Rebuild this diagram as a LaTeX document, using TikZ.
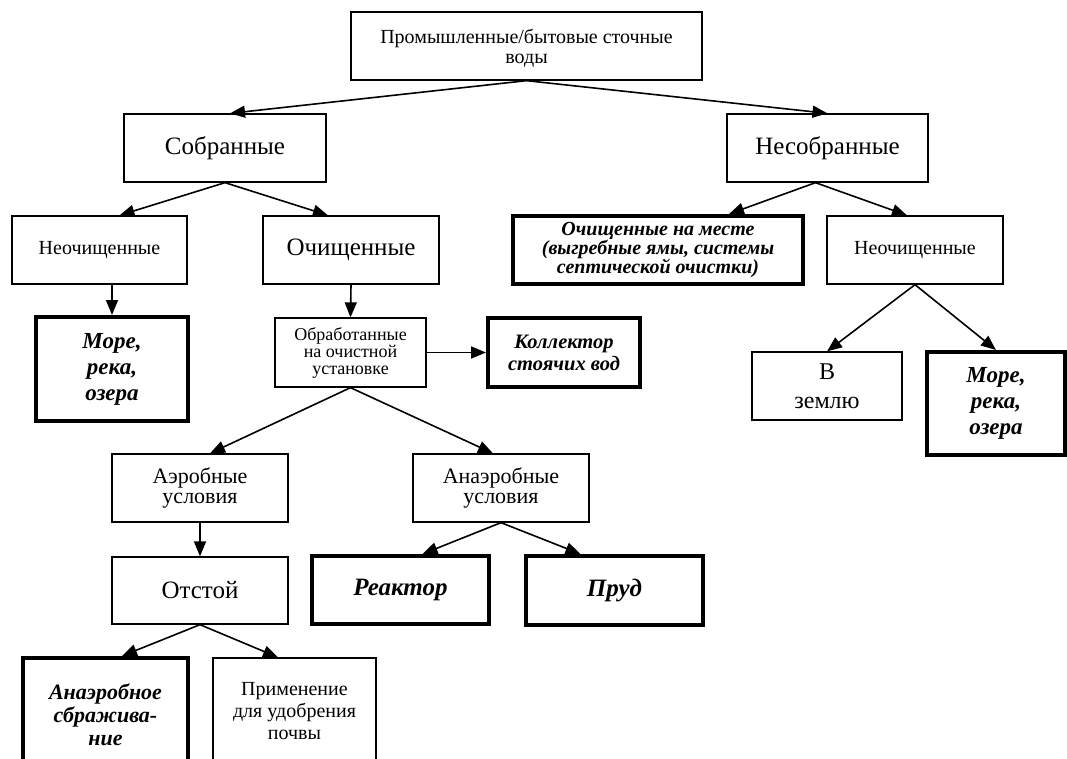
\documentclass[tikz,border=0pt]{standalone}
\usepackage{fontspec}
\setmainfont{Liberation Serif}
\usetikzlibrary{arrows.meta}

\newcommand{\fsz}[2]{\fontsize{#1}{#2}\selectfont}

\tikzset{
    box/.style 2 args={draw, line width=1.3pt, align=center, inner sep=1pt,
        minimum width=#1pt, minimum height=#2pt},
    bbox/.style 2 args={box={#1}{#2}, line width=4pt},
    arr/.style={-{Triangle[length=15pt,width=12pt]}, line width=1.6pt}
}

\begin{document}
\begin{tikzpicture}[x=1pt, y=-1pt]
    \useasboundingbox (0,0) rectangle (1067,758);
    \clip (0,0) rectangle (1067,758);
    % Top box
    \node[box={351}{68}, font=\fsz{20}{20}, text depth=-4pt] (water) at (526.5,46) {Промышленные/бытовые сточные\\воды};
    % Collected / not collected
    \node[box={202}{68}, font=\fsz{25}{28}] (sobr) at (225,148) {Собранные};
    \node[box={201}{68}, font=\fsz{25}{28}] (nesobr) at (827.5,148) {Несобранные};
    % Second level
    \node[box={175}{68}, font=\fsz{20}{22}] (neochL) at (99.5,250) {Неочищенные};
    \node[box={176}{68}, font=\fsz{25}{28}] (ochL) at (351,250) {Очищенные};
    \node[bbox={290}{68}, font=\bfseries\itshape\fsz{20}{17.5}] (mesto) at (658,250) {Очищенные на месте\\(выгребные ямы, системы\\септической очистки)};
    \node[box={176}{68}, font=\fsz{20}{22}] (neochR) at (915,250) {Неочищенные};
    % Third level
    \node[bbox={152}{104}, font=\bfseries\itshape\fsz{23}{26}] (seaL) at (112,369) {Море,\\река,\\озера};
    \node[box={151}{69}, font=\fsz{18}{17}] (obrab) at (350.5,352.5) {Обработанные\\на очистной\\установке};
    \node[bbox={152}{69}, font=\bfseries\itshape\fsz{20.5}{22}] (koll) at (564,352.5) {Коллектор\\стоячих вод};
    \node[box={150}{68}, font=\fsz{24}{29}] (zemlya) at (827,386) {В\\землю};
    \node[bbox={138}{103}, font=\bfseries\itshape\fsz{23}{26}] (seaR) at (996,403.5) {Море,\\река,\\озера};
    % Conditions
    \node[box={176}{68}, font=\fsz{22}{20}] (aerob) at (200,488) {Аэробные\\условия};
    \node[box={176}{68}, font=\fsz{22}{20}] (anaerob) at (501,488) {Анаэробные\\условия};
    \node[box={176}{67}, font=\fsz{25}{28}] (otstoy) at (200,590.5) {Отстой};
    \node[bbox={177}{68}, font=\bfseries\itshape\fsz{25}{28}] (reaktor) at (400.5,590) {Реактор};
    \node[bbox={177}{69}, font=\bfseries\itshape\fsz{25}{28}] (prud) at (614.5,590.5) {Пруд};
    % Bottom row
    \node[bbox={165}{114}, font=\bfseries\itshape\fsz{22}{23}] (sbrazh) at (105.5,715) {Анаэробное\\сбражива-\\ние};
    \node[box={163}{106}, font=\fsz{20}{22}] (primen) at (294.5,711) {Применение\\для удобрения\\почвы};

    % Arrows
    \draw[arr] (water.south) -- ([xshift=5pt]sobr.north);
    \draw[arr] (water.south) -- (nesobr.north);
    \draw[arr] (sobr.south) -- ([xshift=20pt]neochL.north);
    \draw[arr] (sobr.south) -- ([xshift=-23pt]ochL.north);
    \draw[arr] (seaL.north |- neochL.south) -- (seaL.north);
    \draw[arr] (ochL.south) -- (obrab.north);
    \draw[arr] (obrab.east) -- (koll.west);
    \draw[arr] ([xshift=-12pt]nesobr.south) -- ([xshift=71pt]mesto.north);
    \draw[arr] ([xshift=-12pt]nesobr.south) -- ([xshift=-8pt]neochR.north);
    \draw[arr] (neochR.south) -- (zemlya.north);
    \draw[arr] (neochR.south) -- (seaR.north);
    \draw[arr] (obrab.south) -- ([xshift=10pt]aerob.north);
    \draw[arr] (obrab.south) -- ([xshift=-8pt]anaerob.north);
    \draw[arr] (aerob.south) -- (otstoy.north);
    \draw[arr] (anaerob.south) -- ([xshift=22pt]reaktor.north);
    \draw[arr] (anaerob.south) -- ([xshift=-34pt]prud.north);
    \draw[arr] (otstoy.south) -- ([xshift=16.5pt]sbrazh.north);
    \draw[arr] (otstoy.south) -- ([xshift=-16.5pt]primen.north);
\end{tikzpicture}
\end{document}
